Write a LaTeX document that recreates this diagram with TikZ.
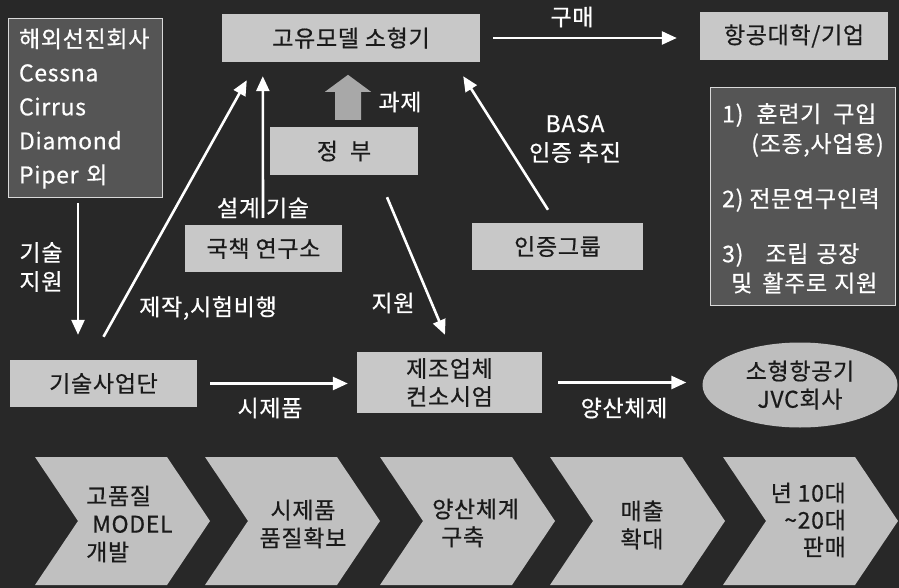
\documentclass[tikz,border=0pt]{standalone}
\usepackage{fontspec}
\setmainfont{Noto Sans CJK KR}[FakeBold=0.6, LetterSpace=3]
\usetikzlibrary{arrows.meta,shapes.geometric}
\definecolor{bgdark}{HTML}{282828}
\definecolor{boxlight}{HTML}{C8C8C8}
\definecolor{boxmed}{HTML}{555555}
\definecolor{chev}{HTML}{C0C0C0}
\definecolor{txtdark}{HTML}{1A1A1A}
\definecolor{blockarr}{HTML}{A8A8A8}
\begin{document}
\begin{tikzpicture}[x=1pt,y=-1pt,
  lightbox/.style={fill=boxlight, text=txtdark, inner sep=0pt, font=\fontsize{23}{28}\selectfont},
  medbox/.style={fill=boxmed, draw=white!85!black, line width=1pt, text=white, inner sep=0pt},
  lbl/.style={text=white, font=\fontsize{23}{29}\selectfont, inner sep=0pt},
  rtxt/.style={text=white, font=\fontsize{23}{28}\selectfont, inner sep=0pt, anchor=west},
  chevtxt/.style={text=txtdark, font=\fontsize{23}{28}\selectfont, inner sep=0pt},
  arr/.style={draw=white, line width=2.6pt, -{Triangle[length=15pt,width=13pt]}},
  chevron/.style={fill=chev}
]
\fill[bgdark] (0,0) rectangle (899,588);
\useasboundingbox (0,0) rectangle (899,588);

% chevrons
\foreach \L in {35,205,380,550,723}{
  \fill[chevron] (\L,457) -- (\L+132,457) -- (\L+175,521) -- (\L+132,585) -- (\L,585) -- (\L+43,521) -- cycle;
}
\node[chevtxt, align=left, anchor=west] (c1) at (86,524) {고품질\\\hspace{6pt}MODEL\\개발};
\node[chevtxt, align=center] (c2) at (303,524) {시제품\\품질확보};
\node[chevtxt, align=left, anchor=west] (c3) at (432,523) {양산체계\\\hspace{9pt}구축};
\node[chevtxt, align=center] (c4) at (642,525) {매출\\확대};
\node[chevtxt, align=right, anchor=east, font=\fontsize{23}{27}\selectfont] (c5) at (846,520) {년 10대\\\textasciitilde20대\\판매};

% boxes
\node[medbox, minimum width=154pt, minimum height=179pt, text width=132pt, align=left,
      font=\fontsize{23}{34}\selectfont] (haewoe) at (85,108.5)
      {해외선진회사\\Cessna\\Cirrus\\Diamond\\Piper 외};
\node[lightbox, minimum width=258pt, minimum height=48pt] (gomodel) at (351,38) {고유모델 소형기};
\node[lightbox, minimum width=188pt, minimum height=48pt] (hanggong) at (794,36) {항공대학/기업};
\node[medbox, minimum width=185pt, minimum height=217pt] (rbox) at (802.5,196.5) {};
\node[lightbox, minimum width=148pt, minimum height=48pt] (jeongbu) at (344,151) {정\hspace{12pt}부};
\node[lightbox, minimum width=157pt, minimum height=47pt] (gukchaek) at (263.5,248.5) {국책 연구소};
\node[lightbox, minimum width=171pt, minimum height=47pt] (injeung) at (557.5,246.5) {인증그룹};
\node[lightbox, minimum width=187pt, minimum height=47pt] (gisul) at (103.5,383.5) {기술사업단};
\node[lightbox, minimum width=185pt, minimum height=61pt, align=center] (jejo) at (449.5,382.5) {제조업체\\컨소시엄};
\node[lightbox, ellipse, minimum width=195pt, minimum height=85pt, align=center, fill=boxlight!95!black] (jvc) at (800,385) {소형항공기\\JVC회사};

% right box text
\node[rtxt] (r1) at (722,115) {1)\hspace{13pt}훈련기\hspace{12pt}구입};
\node[rtxt] (r2) at (751,145) {(조종,사업용)};
\node[rtxt] (r3) at (722,200) {2) 전문연구인력};
\node[rtxt] (r4) at (722,255) {3)\hspace{22pt}조립\hspace{8pt}공장};
\node[rtxt] (r5) at (731,283) {및\hspace{10pt}활주로\hspace{7pt}지원};

% block arrow (과제)
\fill[blockarr] ([xshift=-9pt,yshift=7pt]jeongbu.north) -- ++(0,-28) -- ++(-10,0) -- ([yshift=52pt,xshift=4pt]jeongbu.north) -- ++(23,17) -- ++(-10,0) -- ++(0,28) -- cycle;
\node[lbl] (gwaje) at (400,102) {과제};

% labels
\node[lbl] (gumae) at (572,17) {구매};
\node[lbl] (seolgye) at (263,208) {설계\hspace{6pt}기술};
\node[lbl] (jejak) at (208,308) {제작,시험비행};
\node[lbl, align=left] (gisuljiwon) at (41,267) {기술\\지원};
\node[lbl] (jiwon) at (393,303) {지원};
\node[lbl, align=center] (basa) at (575,139) {BASA\\인증 추진};
\node[lbl] (sijepum) at (270,408) {시제품};
\node[lbl] (yangsan) at (624,408) {양산체제};

% arrows
\draw[arr] ([xshift=-7pt,yshift=-5pt]haewoe.south) -- ([xshift=-25.5pt,yshift=25pt]gisul.north);
\draw[arr] ([yshift=23pt]gisul.north) -- ([xshift=25pt,yshift=-18pt]gomodel.south west);
\draw[arr] ([xshift=-0.5pt,yshift=7pt]gukchaek.north) -- ([xshift=41pt,yshift=-14pt]gomodel.south west);
\draw[arr] ([xshift=13pt]gomodel.east) -- ([xshift=-23pt]gomodel.east -| hanggong.west);
\draw[arr] ([xshift=-9.5pt,yshift=13pt]injeung.north) -- ([xshift=-17pt,yshift=-14pt]gomodel.south east);
\draw[arr] ([xshift=43pt,yshift=-22pt]jeongbu.south) -- ([xshift=-4.5pt,yshift=17pt]jejo.north);
\draw[arr] ([xshift=13pt]gisul.east) -- ([xshift=-9pt]gisul.east -| jejo.west);
\draw[arr] ([xshift=16pt]jejo.east) -- ([xshift=-16pt]jejo.east -| jvc.west);
\end{tikzpicture}
\end{document}
